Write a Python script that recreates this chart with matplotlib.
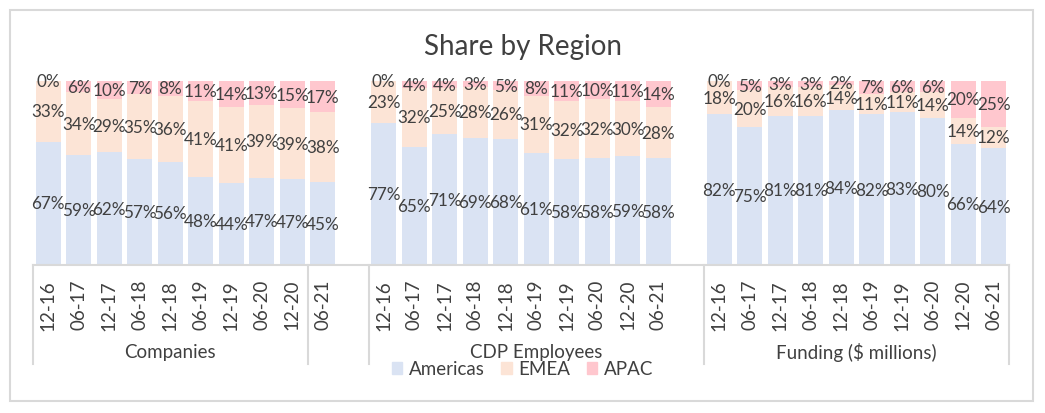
import numpy as np
import matplotlib.pyplot as plt
from matplotlib.patches import Rectangle, Patch
from matplotlib import transforms

plt.rcParams['font.family'] = ['Lato', 'DejaVu Sans']

periods = ['12-16', '06-17', '12-17', '06-18', '12-18', '06-19', '12-19', '06-20', '12-20', '06-21']
groups = ['Companies', 'CDP Employees', 'Funding ($ millions)']

americas = [[67, 59, 62, 57, 56, 48, 44, 47, 47, 45],
            [77, 65, 71, 69, 68, 61, 58, 58, 59, 58],
            [82, 75, 81, 81, 84, 82, 83, 80, 66, 64]]
emea = [[33, 34, 29, 35, 36, 41, 41, 39, 39, 38],
        [23, 32, 25, 28, 26, 31, 32, 32, 30, 28],
        [18, 20, 16, 16, 14, 11, 11, 14, 14, 12]]
apac = [[0, 6, 10, 7, 8, 11, 14, 13, 15, 17],
        [0, 4, 4, 3, 5, 8, 11, 10, 11, 14],
        [0, 5, 3, 3, 2, 7, 6, 6, 20, 25]]

c_am = '#DAE3F3'
c_em = '#FCE4D6'
c_ap = '#FFC7CE'
txt = '#404040'
grid = '#D9D9D9'

fig = plt.figure(figsize=(10.45, 4.14), dpi=100)
ax = fig.add_axes([33/1045, (414-266)/414, (1009-33)/1045, 184/414])

n = len(periods)
xs_all = []
for g in range(3):
    xs = np.arange(n) + g*(n+1)
    a = np.array(americas[g], dtype=float)
    e = np.array(emea[g], dtype=float)
    p = np.array(apac[g], dtype=float)
    tot = a + e + p
    a_s, e_s, p_s = a/tot*100, e/tot*100, p/tot*100
    ax.bar(xs, a_s, width=0.82, color=c_am)
    ax.bar(xs, e_s, width=0.82, bottom=a_s, color=c_em)
    ax.bar(xs, p_s, width=0.82, bottom=a_s+e_s, color=c_ap)
    for i, x in enumerate(xs):
        ax.text(x, a_s[i]/2, '%d%%' % a[i], ha='center', va='center', fontsize=12.3, color=txt)
        ax.text(x, a_s[i]+e_s[i]/2, '%d%%' % e[i], ha='center', va='center', fontsize=12.3, color=txt)
        ax.text(x, a_s[i]+e_s[i]+p_s[i]/2, '%d%%' % p[i], ha='center', va='center', fontsize=12.3, color=txt)
    xs_all.extend(xs)

ax.set_xlim(-0.5, 3*n + 2 - 0.5)
ax.set_ylim(0, 100)
ax.set_yticks([])
ax.set_xticks(xs_all)
ax.set_xticklabels(periods*3, rotation=90, fontsize=13.5, color=txt)
ax.tick_params(axis='x', length=0, pad=10)
for s in ['top', 'right', 'left']:
    ax.spines[s].set_visible(False)
ax.spines['bottom'].set_color(grid)
ax.spines['bottom'].set_linewidth(1.5)

# group separators (Excel multi-level axis)
trans = transforms.blended_transform_factory(ax.transData, ax.transAxes)
for xl in [-0.5, 8.5, 10.5, 21.5, 32 - 0.5]:
    ax.plot([xl, xl], [0, -99/184], color=grid, lw=1.5, transform=trans, clip_on=False)

label_x = [(-0.5+8.5)/2, (10.5+21.5)/2, (21.5+31.5)/2]
for g in range(3):
    ax.text(label_x[g], -87/184, groups[g], transform=trans, ha='center', va='center',
            fontsize=13.5, color=txt)

fig.text(0.5, 1-47/414, 'Share by Region', ha='center', va='center', fontsize=20, color=txt)

handles = [Patch(color=c_am, label='Americas'), Patch(color=c_em, label='EMEA'), Patch(color=c_ap, label='APAC')]
leg = fig.legend(handles=handles, loc='center', bbox_to_anchor=(0.5, 1-370/414), ncol=3, frameon=False,
                 fontsize=13.5, handlelength=0.55, handleheight=0.55, handletextpad=0.35, columnspacing=0.9)
for t in leg.get_texts():
    t.set_color(txt)

fig.patches.append(Rectangle((10/1045, 1-402/414), 1023/1045, 391/414, transform=fig.transFigure,
                             fill=False, edgecolor=grid, lw=1.5))

plt.savefig('out.png', dpi=100)
